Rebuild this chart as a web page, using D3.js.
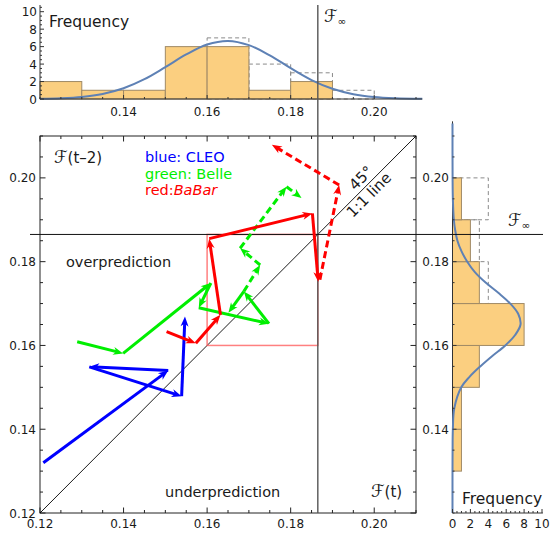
<!DOCTYPE html>
<html><head><meta charset="utf-8">
<script src="https://cdn.jsdelivr.net/npm/d3@7/dist/d3.min.js"></script>
<style>
body{margin:0;background:#fff}
svg{display:block}
text{font-family:"DejaVu Sans",sans-serif;fill:#1a1a1a}
</style>
</head><body>
<svg id="chart" width="550" height="538"></svg>
<script>
// ---------------- data ----------------
const fInf = 0.1865;
const binStarts = [0.12, 0.13, 0.14, 0.15, 0.16, 0.17, 0.18, 0.19];
const binWidth = 0.01;
const topCounts        = [2, 1, 1, 6, 6, 1, 2, 0];
const topDashedCounts  = [0, 0, 0, 0, 7, 4, 3, 1];
const rightCounts      = [0, 1, 1, 3, 8, 3, 2, 1];
const rightDashedCounts= [0, 0, 0, 0, 0, 4, 3, 4];

// fitted density curves
const topCurveX = [0.12,0.125,0.13,0.135,0.14,0.145,0.15,0.155,0.16,0.165,0.17,0.175,0.18,0.185,0.19,0.195,0.20,0.205,0.2115];
const topCurveF = [0.03,0.09,0.24,0.58,1.23,2.27,3.65,5.1,6.24,6.65,6.17,5.0,3.53,2.17,1.17,0.55,0.22,0.08,0.02];
const rightCurveY = [0.12,0.13,0.135,0.14,0.145,0.15,0.1525,0.155,0.1575,0.16,0.1625,0.165,0.1675,0.17,0.1725,0.175,0.1775,0.18,0.1825,0.185,0.1875,0.19,0.195,0.20,0.213];
const rightCurveF = [0,0,0.01,0.04,0.2,0.98,1.9,3.1,4.45,5.9,7.0,7.6,7.35,6.45,5.15,3.7,2.5,1.65,1.0,0.55,0.3,0.15,0.04,0.01,0];

// trajectories: [F(t), F(t-2)]
const cleoSolid  = [[0.1208,0.1320],[0.1507,0.1540],[0.1318,0.1549],[0.1539,0.1479],[0.1547,0.1669]];
const belleSolid = [[0.1289,0.1609],[0.1399,0.1581],[0.1609,0.1749],[0.1580,0.1690],[0.1748,0.1652],[0.1688,0.1729],[0.1651,0.1678]];
const belleDashed= [[0.1688,0.1729],[0.1727,0.1792],[0.1679,0.1832],[0.1790,0.1979],[0.1826,0.1952]];
const babarSolid = [[0.1503,0.1633],[0.1573,0.1605],[0.1632,0.1673],[0.1605,0.1855],[0.1852,0.1915],[0.1866,0.1752]];
const babarDashed= [[0.1870,0.1757],[0.1916,0.1983],[0.1755,0.2079]];
const boxRange = [0.16, 0.1865];

const mainTicks = [0.12,0.14,0.16,0.18,0.20];
const topYTicks = [0,2,4,6,8,10];
const topXTicks = [0.14,0.16,0.18,0.20];
const rightYTicks = [0.14,0.16,0.18,0.20];
const rightXTicks = [0,2,4,6,8,10];

// ---------------- drawing ----------------
const svg = d3.select("#chart");
const x = d3.scaleLinear().domain([0.12,0.21]).range([40,416]);
const y = d3.scaleLinear().domain([0.12,0.21]).range([513,136]);
const xTop = d3.scaleLinear().domain([0.12,0.21]).range([40,416]);
const yTop = d3.scaleLinear().domain([0,10]).range([99,11.7]);
const yR = d3.scaleLinear().domain([0.12,0.21]).range([513,136]);
const xR = d3.scaleLinear().domain([0,10]).range([452.5,542]);

const fillC = "#fbcf80", edgeC = "#a08a66", curveC = "#5e81b5";
const fmt2 = d3.format(".2f");
const minor = (a,b,s)=>d3.range(Math.round((b-a)/s)+1).map(i=>+(a+i*s).toFixed(4));

// ---- top histogram ----
const gT = svg.append("g");
gT.selectAll("rect.d").data(binStarts.map((b,i)=>({b,c:topDashedCounts[i]})).filter(d=>d.c>0))
  .join("rect").attr("x",d=>xTop(d.b)).attr("y",d=>yTop(d.c))
  .attr("width",d=>xTop(d.b+binWidth)-xTop(d.b)).attr("height",d=>yTop(0)-yTop(d.c))
  .attr("fill","none").attr("stroke","#8a8a8a").attr("stroke-dasharray","4,3").attr("stroke-width",1);
gT.selectAll("rect.s").data(binStarts.map((b,i)=>({b,c:topCounts[i]})).filter(d=>d.c>0))
  .join("rect").attr("x",d=>xTop(d.b)).attr("y",d=>yTop(d.c))
  .attr("width",d=>xTop(d.b+binWidth)-xTop(d.b)).attr("height",d=>yTop(0)-yTop(d.c))
  .attr("fill",fillC).attr("stroke",edgeC).attr("stroke-width",1);
gT.append("path").datum(topCurveX.map((v,i)=>[v,topCurveF[i]]))
  .attr("d",d3.line().x(d=>xTop(d[0])).y(d=>yTop(d[1])).curve(d3.curveCatmullRom))
  .attr("fill","none").attr("stroke",curveC).attr("stroke-width",2);
// axes
gT.append("line").attr("x1",xTop(0.12)).attr("x2",xTop(0.2115)).attr("y1",yTop(0)).attr("y2",yTop(0)).attr("stroke","#333").attr("stroke-width",1);
gT.append("line").attr("x1",xTop(0.12)).attr("x2",xTop(0.12)).attr("y1",yTop(0)).attr("y2",5).attr("stroke","#333").attr("stroke-width",1);
minor(0.12,0.21,0.005).forEach(v=>{
  const maj = topXTicks.some(t=>Math.abs(t-v)<1e-6);
  gT.append("line").attr("x1",xTop(v)).attr("x2",xTop(v)).attr("y1",yTop(0)).attr("y2",yTop(0)-(maj?4:2)).attr("stroke","#333");
});
minor(0,10.5,0.5).forEach(v=>{
  const maj = topYTicks.includes(v);
  gT.append("line").attr("x1",xTop(0.12)).attr("x2",xTop(0.12)+(maj?4:2)).attr("y1",yTop(v)).attr("y2",yTop(v)).attr("stroke","#333");
});
gT.selectAll("text.xt").data(topXTicks).join("text").attr("x",d=>xTop(d)).attr("y",116)
  .attr("text-anchor","middle").attr("font-size",12).text(fmt2);
gT.selectAll("text.yt").data(topYTicks).join("text").attr("x",37).attr("y",d=>yTop(d)+4.5)
  .attr("text-anchor","end").attr("font-size",12).text(d=>d);
gT.append("text").attr("x",49).attr("y",27).attr("font-size",15.5).text("Frequency");

// ---- right histogram ----
const gR = svg.append("g");
gR.selectAll("rect.d").data(binStarts.map((b,i)=>({b,c:rightDashedCounts[i]})).filter(d=>d.c>0))
  .join("rect").attr("x",xR(0)).attr("y",d=>yR(d.b+binWidth))
  .attr("width",d=>xR(d.c)-xR(0)).attr("height",d=>yR(d.b)-yR(d.b+binWidth))
  .attr("fill","none").attr("stroke","#8a8a8a").attr("stroke-dasharray","4,3").attr("stroke-width",1);
gR.selectAll("rect.s").data(binStarts.map((b,i)=>({b,c:rightCounts[i]})).filter(d=>d.c>0))
  .join("rect").attr("x",xR(0)).attr("y",d=>yR(d.b+binWidth))
  .attr("width",d=>xR(d.c)-xR(0)).attr("height",d=>yR(d.b)-yR(d.b+binWidth))
  .attr("fill",fillC).attr("stroke",edgeC).attr("stroke-width",1);
gR.append("line").attr("x1",xR(0)).attr("x2",xR(0)).attr("y1",yR(0.12)).attr("y2",yR(0.2135)).attr("stroke","#333").attr("stroke-width",1);
gR.append("line").attr("x1",xR(0)).attr("x2",xR(10.1)).attr("y1",yR(0.12)).attr("y2",yR(0.12)).attr("stroke","#333").attr("stroke-width",1);
gR.append("path").datum(rightCurveY.map((v,i)=>[rightCurveF[i],v]))
  .attr("d",d3.line().x(d=>xR(d[0])).y(d=>yR(d[1])).curve(d3.curveCatmullRom))
  .attr("fill","none").attr("stroke",curveC).attr("stroke-width",2);
minor(0.12,0.21,0.005).forEach(v=>{
  const maj = rightYTicks.some(t=>Math.abs(t-v)<1e-6);
  gR.append("line").attr("x1",xR(0)).attr("x2",xR(0)+(maj?4:2)).attr("y1",yR(v)).attr("y2",yR(v)).attr("stroke","#333");
});
minor(0,10,0.5).forEach(v=>{
  const maj = rightXTicks.includes(v);
  gR.append("line").attr("x1",xR(v)).attr("x2",xR(v)).attr("y1",yR(0.12)).attr("y2",yR(0.12)-(maj?4:2)).attr("stroke","#333");
});
gR.selectAll("text.yt").data(rightYTicks).join("text").attr("x",449).attr("y",d=>yR(d)+4.5)
  .attr("text-anchor","end").attr("font-size",12).text(fmt2);
gR.selectAll("text.xt").data(rightXTicks).join("text").attr("x",d=>xR(d)).attr("y",528)
  .attr("text-anchor","middle").attr("font-size",12).text(d=>d);
gR.append("text").attr("x",462).attr("y",504).attr("font-size",15.5).text("Frequency");

// ---- main panel ----
const gM = svg.append("g");
gM.append("rect").attr("x",x(0.12)).attr("y",y(0.21)).attr("width",x(0.21)-x(0.12)).attr("height",y(0.12)-y(0.21))
  .attr("fill","none").attr("stroke","#222").attr("stroke-width",1);
minor(0.12,0.21,0.005).forEach(v=>{
  const maj = mainTicks.some(t=>Math.abs(t-v)<1e-6);
  const L = maj?5.5:3;
  gM.append("line").attr("x1",x(v)).attr("x2",x(v)).attr("y1",y(0.12)).attr("y2",y(0.12)-L).attr("stroke","#222");
  gM.append("line").attr("x1",x(v)).attr("x2",x(v)).attr("y1",y(0.21)).attr("y2",y(0.21)+L).attr("stroke","#222");
  gM.append("line").attr("x1",x(0.12)).attr("x2",x(0.12)+L).attr("y1",y(v)).attr("y2",y(v)).attr("stroke","#222");
  gM.append("line").attr("x1",x(0.21)).attr("x2",x(0.21)-L).attr("y1",y(v)).attr("y2",y(v)).attr("stroke","#222");
});
gM.selectAll("text.xt").data(mainTicks).join("text").attr("x",d=>x(d)).attr("y",528)
  .attr("text-anchor","middle").attr("font-size",12).text(fmt2);
gM.selectAll("text.yt").data(mainTicks).join("text").attr("x",36).attr("y",d=>y(d)+4.5)
  .attr("text-anchor","end").attr("font-size",12).text(fmt2);

// 1:1 line
gM.append("line").attr("x1",x(0.12)).attr("y1",y(0.12)).attr("x2",x(0.21)).attr("y2",y(0.21)).attr("stroke","#000").attr("stroke-width",0.9);
// red box
gM.append("rect").attr("x",x(boxRange[0])).attr("y",y(boxRange[1])).attr("width",x(boxRange[1])-x(boxRange[0]))
  .attr("height",y(boxRange[0])-y(boxRange[1])).attr("fill","none").attr("stroke","#ff5555").attr("stroke-opacity",0.75).attr("stroke-width",1.5);

// F-infinity lines
svg.append("line").attr("x1",x(fInf)).attr("x2",x(fInf)).attr("y1",5).attr("y2",y(0.12)).attr("stroke","#555").attr("stroke-width",1.4);
svg.append("line").attr("x1",30).attr("x2",543).attr("y1",y(fInf)).attr("y2",y(fInf)).attr("stroke","#111").attr("stroke-width",1);

// texts
function fLabel(g, px, py, size, rest, sub){
  const t = g.append("text").attr("x",px).attr("y",py).attr("font-size",size);
  t.append("tspan").attr("font-family","'DejaVu Serif','DejaVu Sans',serif").attr("font-style","italic").attr("font-size",size*1.15).text("ℱ");
  if(rest) t.append("tspan").text(rest);
  if(sub) t.append("tspan").attr("font-size",size*0.7).attr("dy",3).text(sub);
  return t;
}
fLabel(svg, 54, 163, 15, "(t–2)");
fLabel(svg, 371, 497, 15, "(t)");
fLabel(svg, 324, 22, 15, null, "∞");
fLabel(svg, 508, 226, 15, null, "∞");

svg.append("text").attr("x",145).attr("y",162).attr("font-size",14.5).style("fill","#0000ff").text("blue: CLEO");
svg.append("text").attr("x",145).attr("y",179).attr("font-size",14.5).style("fill","#00ee00").text("green: Belle");
const rt = svg.append("text").attr("x",145).attr("y",195).attr("font-size",14.5).style("fill","#ff0000");
rt.append("tspan").text("red:");
rt.append("tspan").attr("font-style","italic").text("BaBar");
svg.append("text").attr("x",66).attr("y",267).attr("font-size",14.5).text("overprediction");
svg.append("text").attr("x",165).attr("y",497).attr("font-size",14.5).text("underprediction");
svg.append("text").attr("transform","translate(361,178) rotate(-45)").attr("text-anchor","middle")
  .attr("dominant-baseline","central").attr("font-size",15).text("45°");
svg.append("text").attr("transform","translate(369,195) rotate(-45)").attr("text-anchor","middle")
  .attr("dominant-baseline","central").attr("font-size",15).text("1:1 line");

// arrows
const gA = svg.append("g");
function arrows(pts, color, dashed){
  for(let i=0;i<pts.length-1;i++){
    const x0=x(pts[i][0]), y0=y(pts[i][1]), x1=x(pts[i+1][0]), y1=y(pts[i+1][1]);
    const dx=x1-x0, dy=y1-y0, len=Math.hypot(dx,dy), ux=dx/len, uy=dy/len, nx=-uy, ny=ux;
    const L=10, W=4;
    gA.append("line").attr("x1",x0).attr("y1",y0).attr("x2",x1-ux*L*0.6).attr("y2",y1-uy*L*0.6)
      .attr("stroke",color).attr("stroke-width",3).attr("stroke-dasharray",dashed?"7,4":null);
    const bx=x1-ux*L, by=y1-uy*L;
    gA.append("path").attr("d",`M${x1},${y1}L${bx+nx*W},${by+ny*W}L${x1-ux*L*0.7},${y1-uy*L*0.7}L${bx-nx*W},${by-ny*W}Z`)
      .attr("fill",color);
  }
}
arrows(cleoSolid,"#0000ff",false);
arrows(belleSolid,"#00ee00",false);
arrows(belleDashed,"#00ee00",true);
arrows(babarSolid,"#ff0000",false);
arrows(babarDashed,"#ff0000",true);
</script>
</body></html>
